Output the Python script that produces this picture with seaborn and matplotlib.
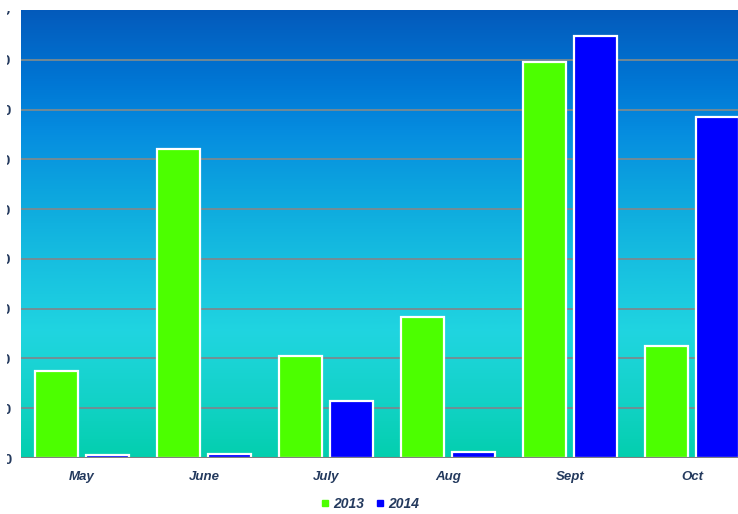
import numpy as np
import pandas as pd
import matplotlib
matplotlib.use("Agg")
import matplotlib.pyplot as plt
import seaborn as sns
from matplotlib.colors import LinearSegmentedColormap
from matplotlib.lines import Line2D
from matplotlib.transforms import Bbox, TransformedBbox

months = ["May", "June", "July", "Aug", "Sept", "Oct"]
years = ["2013", "2014"]
values_2013 = [17.5, 62.0, 20.5, 28.3, 79.5, 22.5]
values_2014 = [0.6, 0.8, 11.4, 1.2, 84.7, 68.5]
y_ticks = [0, 10, 20, 30, 40, 50, 60, 70, 80, 90]
bar_colors = ["#4cff00", "#0000ff"]
label_color = "#243a5e"

df = pd.DataFrame({
    "month": months * 2,
    "year": [years[0]] * len(months) + [years[1]] * len(months),
    "value": values_2013 + values_2014,
})

sns.set_theme(style="white")
plt.rcParams["font.family"] = ["Liberation Sans", "DejaVu Sans"]

W, H = 738, 514
fig = plt.figure(figsize=(W / 100, H / 100), dpi=100)
left, right, top, bottom = 21, 738, 10, 458
ax = fig.add_axes([left / W, (H - bottom) / H, (right - left) / W, (bottom - top) / H])

# gradient background
stops = [(0.0, "#03cfae"), (0.12, "#12d2c6"), (0.28, "#20d5e0"),
         (0.45, "#16bde0"), (0.6, "#0ca4de"), (0.72, "#068ee0"),
         (0.84, "#0076d4"), (1.0, "#045abb")]
cmap = LinearSegmentedColormap.from_list("bg", stops)
grad = np.linspace(0, 1, 256).reshape(-1, 1)
x0, x1 = -0.5, (right - 82) / 122.0
ax.imshow(grad, extent=[x0, x1, 0, 90], origin="lower", aspect="auto",
          cmap=cmap, zorder=0)

for yv in y_ticks[1:-1]:
    ax.axhline(yv, color="#7a8a90", lw=1.3, zorder=0.8)
ax.axhline(0, color="#808080", lw=1.5, zorder=3)

sns.barplot(data=df, x="month", y="value", hue="year", palette=bar_colors,
            saturation=1, width=0.836, gap=0.16, edgecolor="white",
            linewidth=1.6, ax=ax, legend=False, zorder=2)

ax.set_xlim(x0, x1)
ax.set_ylim(0, 90)
ax.set_yticks(y_ticks)
ax.set_yticklabels([str(v) for v in y_ticks])
ax.set_xlabel("")
ax.set_ylabel("")
for s in ax.spines.values():
    s.set_visible(False)
ax.tick_params(axis="both", length=0)
ax.tick_params(axis="x", pad=9.5)
ax.tick_params(axis="y", pad=7)
for t in ax.get_xticklabels():
    t.set_fontstyle("italic")
    t.set_fontweight("bold")
    t.set_color(label_color)
    t.set_fontsize(9.5)
clip = TransformedBbox(Bbox([[7 / W, 0], [20 / W, (H - 11) / H]]), fig.transFigure)
for t in ax.get_yticklabels():
    t.set_fontweight("bold")
    t.set_color(label_color)
    t.set_fontsize(10.5)
    t.set_clip_on(True)
    t.set_clip_box(clip)

handles = [Line2D([], [], marker="s", linestyle="", markersize=4.5,
                  markerfacecolor=c, markeredgecolor=c) for c in bar_colors]
leg = fig.legend(handles, years, loc="center", bbox_to_anchor=(370 / W, (H - 504) / H),
                 ncol=2, frameon=False, handlelength=0.6, handletextpad=0.3,
                 columnspacing=0.8, prop={"weight": "bold", "style": "italic", "size": 10})
for t in leg.get_texts():
    t.set_color(label_color)

fig.savefig("out.png", dpi=100)
